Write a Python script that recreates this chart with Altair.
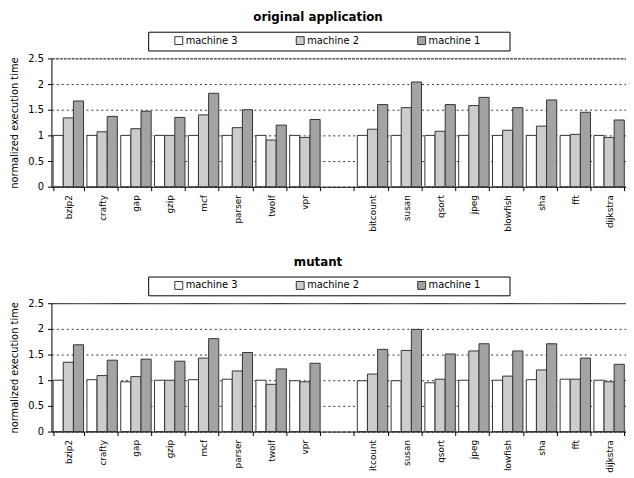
import altair as alt
import pandas as pd

# ---- data ----
machines = ["machine 3", "machine 2", "machine 1"]
colors = ["#ffffff", "#cccccc", "#a3a3a3"]
GAP = " "

top_names = ["bzip2", "crafty", "gap", "gzip", "mcf", "parser", "twolf", "vpr",
             "bitcount", "susan", "qsort", "jpeg", "blowfish", "sha", "fft", "dijkstra"]
top_m3 = [1.00, 1.00, 1.00, 1.00, 1.00, 1.00, 1.00, 1.00,
          1.00, 1.00, 1.00, 1.00, 1.00, 1.00, 1.00, 1.00]
top_m2 = [1.34, 1.07, 1.13, 1.00, 1.40, 1.15, 0.91, 0.96,
          1.12, 1.54, 1.08, 1.58, 1.10, 1.18, 1.02, 0.96]
top_m1 = [1.67, 1.37, 1.47, 1.35, 1.82, 1.50, 1.20, 1.31,
          1.60, 2.04, 1.60, 1.74, 1.54, 1.69, 1.45, 1.30]

bot_names = ["bzip2", "crafty", "gap", "gzip", "mcf", "parser", "twolf", "vpr",
             "itcount", "susan", "qsort", "jpeg", "lowfish", "sha", "fft", "dijkstra"]
bot_m3 = [1.00, 1.01, 0.97, 1.00, 1.01, 1.02, 1.00, 0.99,
          0.99, 0.99, 0.95, 1.00, 1.00, 1.01, 1.02, 1.00]
bot_m2 = [1.35, 1.09, 1.07, 1.00, 1.43, 1.18, 0.92, 0.97,
          1.12, 1.58, 1.02, 1.57, 1.08, 1.20, 1.02, 0.97]
bot_m1 = [1.69, 1.39, 1.41, 1.37, 1.81, 1.54, 1.22, 1.33,
          1.60, 1.99, 1.51, 1.71, 1.57, 1.71, 1.43, 1.31]

y_ticks = [0, 0.5, 1, 1.5, 2, 2.5]


def long_df(names, m3, m2, m1):
    rows = []
    for i, n in enumerate(names):
        for m, vals in zip(machines, [m3, m2, m1]):
            rows.append({"bench": n, "machine": m, "value": vals[i]})
    return pd.DataFrame(rows)


def panel(names, m3, m2, m1, title, top_dash):
    df = long_df(names, m3, m2, m1)
    domain = names[:8] + [GAP] + names[8:]
    nb = "\u00a0"
    blank = "\u2800"
    return alt.Chart(df).mark_bar(stroke="#333333", strokeWidth=1).encode(
        x=alt.X("bench:N", sort=domain,
                scale=alt.Scale(domain=domain, paddingInner=0.1, paddingOuter=0.05),
                axis=alt.Axis(title=None, labelAngle=-90, labelAlign="right",
                              labelBaseline="middle", labelPadding=4, labelFontSize=9,
                              labelColor="#000", tickBand="extent", tickSize=4,
                              tickColor="#000", domainColor="#000", grid=False)),
        xOffset=alt.XOffset("machine:N", sort=machines,
                            scale=alt.Scale(domain=machines, paddingInner=0, paddingOuter=0)),
        y=alt.Y("value:Q", scale=alt.Scale(domain=[0, 2.5], nice=False),
                axis=alt.Axis(title="normalized execution time", values=y_ticks, format="~g",
                              labelFontSize=10, labelColor="#000", labelPadding=4,
                              tickSize=4, tickColor="#000", domainColor="#000",
                              titleFontSize=10, titleFontWeight="normal", titleColor="#000",
                              titlePadding=8,
                              grid=True,
                              gridColor={"condition": {"test": "datum.value == 2.5", "value": "#000000"},
                                         "value": "#333333"},
                              gridDash={"condition": {"test": "datum.value == 2.5", "value": top_dash},
                                        "value": [2, 3]})),
        color=alt.Color("machine:N", sort=machines,
                        scale=alt.Scale(domain=machines, range=colors),
                        legend=alt.Legend(orient="none", legendX=98, legendY=-27,
                                          direction="horizontal", title=nb, titleOrient="left",
                                          titleFontSize=10, titlePadding=22,
                                          strokeColor="#000", fillColor="#fff", padding=4,
                                          symbolType="square", symbolSize=64,
                                          symbolStrokeColor="#333", symbolStrokeWidth=1,
                                          labelFontSize=10, labelColor="#000", labelOffset=2,
                                          columnPadding=57, labelLimit=300,
                                          labelExpr="datum.label == 'machine 1' ? 'machine 1" + nb + blank * 3 + "' : datum.label")),
    ).properties(
        width=582, height=130,
        title=alt.TitleParams(title, fontSize=12, fontWeight="bold", color="#000",
                              anchor="middle", frame="bounds", offset=7),
    )


top = panel(top_names, top_m3, top_m2, top_m1, "original application", [3, 1])
bot = panel(bot_names, bot_m3, bot_m2, bot_m1, "mutant", [1, 0])

chart = alt.vconcat(top, bot, spacing=24).resolve_scale(
    color="independent", x="independent"
).resolve_legend(color="independent").configure(
    font="DejaVu Sans",
    padding={"left": 2, "top": 0, "right": 0, "bottom": 0},
).configure_view(stroke=None)

chart.save("out.html", embed_options={"renderer": "svg", "actions": False})
